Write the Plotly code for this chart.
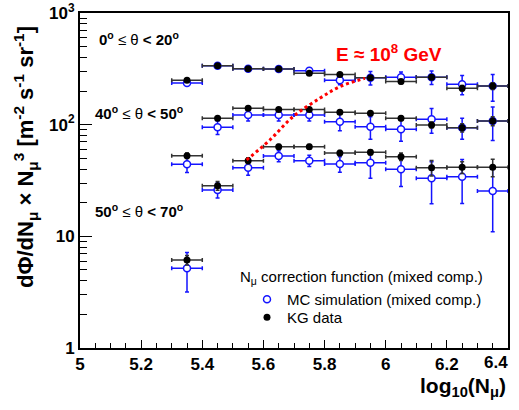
import plotly.graph_objects as go

# bin centres (log10 N_mu)
x_bins = [5.35, 5.45, 5.55, 5.65, 5.75, 5.85, 5.95, 6.05, 6.15, 6.25, 6.35]
x_half_width = [0.05] * 11

# KG data (black) and MC simulation (blue) for three zenith-angle ranges
kg_0_20 = [250, 337, 317, 315, 288, 282, 263, 243, 266, 212, 222]
kg_0_20_err = [8, 10, 9, 9, 9, 9, 10, 10, 12, 12, 15]
mc_0_20 = [236, 337, 317, 315, 304, 250, 263, 266, 266, 230, 222]
mc_0_20_err = [8, 10, 10, 10, 20, 22, 37, 30, 37, 45, 60]

kg_40_50 = [52.8, 114, 140, 137, 137, 129, 126.5, 114, 99.4, 94, 108]
kg_40_50_err = [3, 4, 5, 5, 5, 5, 5, 5, 6, 8, 10]
mc_40_50 = [44.2, 94.8, 122, 122, 122, 106.4, 96, 91, 111.8, 94, 108]
mc_40_50_err = [7, 13, 14, 14, 14, 18, 22, 20, 28, 20, 36]

kg_50_70 = [6.15, 28.4, 47.6, 63.5, 63.5, 55.8, 56.6, 51.7, 41.2, 41.6, 41.6]
kg_50_70_err = [0.6, 2.5, 3, 3, 3, 3, 3, 4, 6.5, 5, 7.5]
mc_50_70 = [5.18, 26.0, 41.2, 52.5, 47.6, 44.5, 45.7, 39.9, 33.1, 34.2, 25.5]
mc_50_70_err = [2.0, 4, 6, 6, 5.5, 7, 12.5, 12, 13.5, 14.5, 14.5]

# E ~ 1e8 GeV curve
red_x = [5.545, 5.621, 5.697, 5.784, 5.850, 5.932]
red_y = [48.3, 72.9, 118, 172, 219, 260]

x_ticks = [5, 5.2, 5.4, 5.6, 5.8, 6, 6.2, 6.4]
x_tick_text = ["5", "5.2", "5.4", "5.6", "5.8", "6", "6.2", ""]
x_last_label = "6.4"   # drawn right-aligned at the axis end, as in the original
y_ticks = [1, 10, 100, 1000]
y_tick_text = ["1", "10", "10<sup>2</sup>", "10<sup>3</sup>"]

BLUE = "#1414ff"
GREY = "#333333"
FONT = "Liberation Sans, Arial, sans-serif"

xs = x_bins * 3
xe = x_half_width * 3
mc_y = mc_0_20 + mc_40_50 + mc_50_70
mc_e = mc_0_20_err + mc_40_50_err + mc_50_70_err
kg_y = kg_0_20 + kg_40_50 + kg_50_70
kg_e = kg_0_20_err + kg_40_50_err + kg_50_70_err

fig = go.Figure()
fig.add_trace(go.Scatter(
    x=xs, y=mc_y, mode="markers", name="MC simulation (mixed comp.)", legend="legend",
    marker=dict(symbol="circle", size=7, color="white", line=dict(color=BLUE, width=1.5)),
    error_x=dict(type="data", array=xe, color=BLUE, thickness=1.5, width=2),
    error_y=dict(type="data", array=mc_e, color=BLUE, thickness=1.5, width=2),
))
fig.add_trace(go.Scatter(
    x=xs, y=kg_y, mode="markers", name="KG data", legend="legend2",
    marker=dict(symbol="circle", size=7, color="black"),
    error_x=dict(type="data", array=xe, color=GREY, thickness=1.5, width=2),
    error_y=dict(type="data", array=kg_e, color=GREY, thickness=1.5, width=2),
))
fig.add_trace(go.Scatter(
    x=red_x, y=red_y, mode="lines", showlegend=False,
    line=dict(color="red", width=3, dash="dot", shape="spline"),
))

W, H = 519, 410
L, R, T, B = 80, 11, 13, 62
pw, ph = W - L - R, H - T - B

def px(x):
    return (x - L) / pw

def py(y):
    return (H - B - y) / ph

leg_common = dict(xanchor="left", yanchor="top", bgcolor="rgba(0,0,0,0)",
                  font=dict(size=15, family=FONT), itemwidth=30)

fig.update_layout(
    width=W, height=H,
    margin=dict(l=L, r=R, t=T, b=B, autoexpand=False),
    paper_bgcolor="white", plot_bgcolor="white",
    font=dict(family=FONT, color="black"),
    showlegend=True,
    legend=dict(x=px(247), y=py(283), **leg_common),
    legend2=dict(x=px(247), y=py(301), **leg_common),
    xaxis=dict(
        range=[5, 6.4], showgrid=False, zeroline=False, automargin=False,
        showline=True, linecolor="black", linewidth=2, mirror=True,
        ticks="inside", ticklen=8, tickwidth=1, tickcolor="black",
        tickvals=x_ticks, ticktext=x_tick_text, ticklabeloverflow="allow",
        tickfont=dict(size=17, family=FONT, weight="bold"),
        minor=dict(ticks="inside", ticklen=5, dtick=0.05, tickcolor="black", showgrid=False),
    ),
    yaxis=dict(
        type="log", range=[0, 3], showgrid=False, zeroline=False, automargin=False,
        showline=True, linecolor="black", linewidth=2, mirror=True,
        ticks="inside", ticklen=12, tickwidth=1, tickcolor="black",
        tickvals=y_ticks, ticktext=y_tick_text, ticklabeloverflow="allow",
        tickfont=dict(size=17, family=FONT, weight="bold"),
        minor=dict(ticks="inside", ticklen=7, tickcolor="black", showgrid=False,
                   tickvals=[2, 3, 4, 5, 6, 7, 8, 9, 20, 30, 40, 50, 60, 70, 80, 90,
                             200, 300, 400, 500, 600, 700, 800, 900]),
    ),
)

ann = [
    dict(text="<b>0<sup>o</sup></b> ≤ θ <b>&lt; 20<sup>o</sup></b>", x=px(97), y=py(38),
         xanchor="left", yanchor="middle", font=dict(size=15)),
    dict(text="<b>40<sup>o</sup></b> ≤ θ <b>&lt; 50<sup>o</sup></b>", x=px(93), y=py(113),
         xanchor="left", yanchor="middle", font=dict(size=15)),
    dict(text="<b>50<sup>o</sup></b> ≤ θ <b>&lt; 70<sup>o</sup></b>", x=px(93), y=py(210),
         xanchor="left", yanchor="middle", font=dict(size=15)),
    dict(text="<b>E ≈ 10<sup>8</sup> GeV</b>", x=px(389), y=py(53),
         xanchor="center", yanchor="middle", font=dict(size=19, color="red")),
    dict(text="<b>" + x_last_label + "</b>", x=px(510), y=py(363),
         xanchor="right", yanchor="middle", font=dict(size=17)),
    dict(text="<b>log<sub>10</sub>(N<sub>μ</sub>)</b>", x=1.0, y=py(387),
         xanchor="right", yanchor="middle", font=dict(size=21)),
    dict(text="<b>dΦ/dN<sub>μ</sub> × N<sub>μ</sub><sup>3</sup> [m<sup>-2</sup> s<sup>-1</sup> sr<sup>-1</sup>]</b>",
         x=px(25), y=py(157), xanchor="center", yanchor="middle", textangle=-90,
         font=dict(size=22)),
    dict(text="N<sub>μ</sub> correction function (mixed comp.)", x=px(238), y=py(277),
         xanchor="left", yanchor="middle", font=dict(size=15)),
]
for a in ann:
    a.update(xref="paper", yref="paper", showarrow=False)
    a["font"]["family"] = FONT
    fig.add_annotation(**a)

fig.write_html("out.html", config={"displayModeBar": False},
               post_script="document.body.style.margin='0px';")
